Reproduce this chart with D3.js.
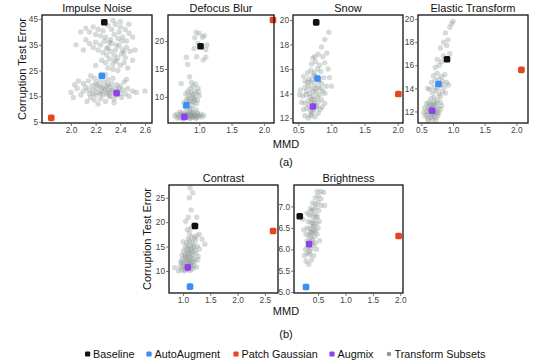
<!DOCTYPE html>
<html><head><meta charset="utf-8">
<script src="https://cdn.jsdelivr.net/npm/d3@7"></script>
<style>
body{margin:0;background:#fff;}
svg{display:block;font-family:"Liberation Sans",Arial,Helvetica,sans-serif;}
</style></head>
<body><svg id="c" width="551" height="360"></svg>
<script>
// ---------- DATA ----------
const panelTitles = ["Impulse Noise","Defocus Blur","Snow","Elastic Transform","Contrast","Brightness"];
const seriesNames = ["Baseline","AutoAugment","Patch Gaussian","Augmix","Transform Subsets"];
const seriesColors = ["#111111","#3a8ef6","#e4471f","#9140ef","#8c9997"];
// highlighted points per panel: [MMD, error] in order Baseline, AutoAugment, Patch Gaussian, Augmix
const baselinePts = [[2.27,43.8],[1.02,19.1],[0.77,19.8],[0.905,16.52],[1.22,19.2],[0.165,6.77]];
const autoAugPts  = [[2.25,23.0],[0.80,8.5],[0.79,15.23],[0.77,14.38],[1.13,6.8],[0.28,5.12]];
const patchGPts   = [[1.84,6.6],[2.14,23.8],[2.01,13.96],[2.08,15.6],[2.65,18.2],[1.97,6.31]];
const augmixPts   = [[2.37,16.2],[0.77,6.4],[0.72,12.95],[0.67,12.06],[1.09,10.75],[0.335,6.12]];
// axis tick labels per panel
const xTicks = [[2.0,2.2,2.4,2.6],[1.0,1.5,2.0],[0.5,1.0,1.5,2.0],[0.5,1.0,1.5,2.0],[1.0,1.5,2.0,2.5],[0.5,1.0,1.5,2.0]];
const yTicks = [[5,15,25,35,45],[10,15,20],[12,14,16,18,20],[12,14,16,18,20],[10,15,20,25],[5.0,5.5,6.0,6.5,7.0]];
const xDomains = [[1.765,2.657],[0.516,2.156],[0.42,2.08],[0.447,2.184],[0.745,2.74],[0.06,2.05]];
const yDomains = [[4.6,46.6],[5.3,24.7],[11.6,20.4],[11.0,20.35],[5.5,27.6],[4.98,7.5]];
// transform-subset clouds
const impulseSubsets = [[2.08,40],[2.12,41.5],[2.15,40],[2.18,42],[2.2,39],[2.22,41],[2.26,40.5],[2.3,42.5],[2.33,41],[2.36,43],[2.4,42],[2.44,41],[2.47,39.5],[2.28,38],[2.32,37],[2.35,39],[2.38,37.5],[2.42,38],[2.45,36.5],[2.5,38],[2.2,36],[2.24,35],[2.27,36.5],[2.3,34],[2.33,35.5],[2.36,33],[2.39,34.5],[2.42,33],[2.45,34],[2.48,32.5],[2.22,33],[2.26,32],[2.29,31],[2.32,32.5],[2.35,31],[2.38,30],[2.41,31.5],[2.44,30],[2.18,34],[2.15,35.5],[2.04,35],[2.1,33],[2.25,29],[2.28,28],[2.31,29.5],[2.34,27.5],[2.37,28.5],[2.4,27],[2.43,28],[2.46,26],[2.3,26],[2.34,25.5],[2.5,29],[2.38,25],[2.2,27],[2.52,33],[2.34,44.5],[2.4,44],[2.47,43],[2.12,37],[2.31,36],[2.37,35],[2.41,36.5],[2.29,33.5],[2.35,29],[2.39,40],[2.43,32],[2.24,38.5],
[2.0,16.5],[2.05,18],[2.03,19.5],[2.08,15.5],[2.1,17],[2.1,20],[2.12,18.5],[2.14,21],[2.15,16],[2.16,14.5],[2.17,19],[2.18,17.5],[2.19,22],[2.2,15.5],[2.2,20],[2.21,18],[2.22,16.5],[2.23,21],[2.24,14],[2.24,19],[2.25,17],[2.26,15.5],[2.27,20.5],[2.28,18],[2.28,13],[2.29,16],[2.3,19.5],[2.3,21.5],[2.31,17],[2.32,15],[2.32,18.5],[2.33,20],[2.34,16.5],[2.35,14],[2.36,18],[2.37,19.5],[2.37,15.5],[2.38,17],[2.4,16],[2.4,19],[2.41,14.5],[2.42,17.5],[2.43,20.5],[2.44,16],[2.46,18],[2.47,15],[2.5,17],[2.53,16.5],[2.6,17],[2.02,14.5],[2.13,13],[2.06,21],[2.26,22.5],[2.34,22],[2.19,13.5],[2.45,21.5],[2.16,23],[2.35,12.5],[2.22,12],[2.28,23.5],[2.25,18.5],[2.27,17.5],[2.3,16.5],[2.33,17.5],[2.21,19.5],[2.24,16],[2.36,16.5],[2.29,19],[2.18,16],[2.31,15],[2.39,18],[2.14,17.5]];
const defocusSubsets = [[0.62,6.6],[0.65,6.9],[0.68,6.4],[0.7,6.8],[0.72,6.2],[0.73,7.1],[0.75,6.5],[0.77,6.9],[0.78,6.3],[0.8,6.7],[0.82,7.0],[0.83,6.4],[0.85,6.8],[0.87,6.2],[0.88,6.6],[0.9,7.0],[0.92,6.5],[0.94,6.8],[0.96,6.3],[0.98,6.7],[1.0,6.5],[1.02,6.9],[1.04,6.4],[0.7,7.3],[0.8,7.4],[0.9,7.3],[0.75,6.0],[0.85,6.1],[0.95,6.1],[0.66,6.2],[0.79,6.55],[0.89,6.45],[0.83,6.75],[0.93,6.65],[0.74,6.7],[0.86,7.2],[0.97,7.1],[1.07,6.7],[0.81,6.35],[0.87,6.9],[0.91,6.35],
[0.78,8.2],[0.82,8.8],[0.85,8.0],[0.88,9.2],[0.9,8.5],[0.92,9.8],[0.8,9.5],[0.84,10.2],[0.87,10.8],[0.9,10.0],[0.93,11.0],[0.95,10.5],[0.97,9.4],[0.99,10.9],[0.86,11.5],[0.9,11.9],[0.94,12.3],[0.82,11.0],[0.79,10.5],[0.76,9.0],[0.98,11.6],[1.0,10.2],[0.88,12.6],[0.72,12.4],[0.96,8.8],[0.83,9.7],[0.91,9.1],[0.87,7.8],[0.95,7.7],[0.89,10.4],[0.93,9.5],[0.85,9.3],
[0.85,13.6],[0.82,15.8],[0.8,17.1],[0.96,17.2],[1.06,16.6],[1.1,17.1],[0.92,18.7],[1.1,18.5],[1.12,19.3],[0.93,20.6],[0.95,21.6],[1.0,21.4],[1.05,20.7],[0.98,19.6],[1.08,21.0]];
const snowSubsets = [[0.6,12.2],[0.65,12.0],[0.7,12.3],[0.75,12.1],[0.8,12.4],[0.58,12.7],[0.63,12.8],[0.68,12.6],[0.73,12.7],[0.78,12.9],[0.83,12.7],[0.55,13.3],[0.6,13.2],[0.65,13.4],[0.7,13.3],[0.75,13.5],[0.8,13.3],[0.85,13.5],[0.9,13.2],[0.57,13.8],[0.62,13.9],[0.67,14.0],[0.72,13.8],[0.77,14.1],[0.82,13.9],[0.87,14.2],[0.53,14.3],[0.6,14.5],[0.65,14.6],[0.7,14.4],[0.75,14.7],[0.8,14.5],[0.85,14.8],[0.92,14.6],[0.6,15.0],[0.66,15.2],[0.71,15.1],[0.76,15.4],[0.81,15.0],[0.88,15.3],[0.97,15.3],[0.64,15.7],[0.69,15.9],[0.74,15.7],[0.79,16.0],[0.84,15.8],[0.7,16.4],[0.76,16.6],[0.82,16.3],[0.9,16.5],[0.95,16.0],[0.75,17.0],[0.8,17.2],[0.87,17.0],[0.93,17.3],[0.85,17.8],[0.9,18.4],[0.96,19.0],[0.72,16.9],[0.68,12.2],[0.62,14.2],[0.74,13.2],[0.79,13.7],[0.84,14.4],[0.69,14.9],[0.73,15.5],[0.78,15.2],[0.66,13.0],[0.71,12.5],[0.86,12.9],[1.0,14.6],[0.52,13.9],[0.58,15.4],[0.9,14.0],[0.68,13.7],[0.73,14.2],[0.77,13.0],[0.64,14.9],[0.71,13.5],[0.76,14.4]];
const elasticSubsets = [[0.56,11.6],[0.6,11.4],[0.64,11.5],[0.68,11.3],[0.72,11.5],[0.76,11.6],[0.58,12.0],[0.62,11.9],[0.66,11.8],[0.7,11.9],[0.74,12.0],[0.78,11.9],[0.55,12.3],[0.6,12.4],[0.64,12.2],[0.68,12.3],[0.72,12.5],[0.76,12.3],[0.8,12.2],[0.58,12.7],[0.62,12.8],[0.66,12.6],[0.7,12.8],[0.74,12.7],[0.8,12.8],[0.59,11.7],[0.65,12.05],[0.71,12.15],[0.67,11.55],[0.63,12.55],[0.75,11.85],[0.69,12.6],[0.61,11.2],[0.73,11.25],[0.54,11.9],[0.82,12.5],[0.62,12.15],[0.69,11.75],[0.66,12.35],
[0.65,13.1],[0.7,13.2],[0.75,13.0],[0.8,13.3],[0.68,13.6],[0.73,13.8],[0.78,13.5],[0.83,13.7],[0.63,13.9],[0.7,14.1],[0.76,14.0],[0.81,14.3],[0.86,14.1],[0.66,14.5],[0.72,14.7],[0.78,14.8],[0.84,14.6],[0.9,14.5],[0.69,15.1],[0.75,15.3],[0.82,15.0],[0.87,15.2],[0.6,14.0],[0.93,14.3],[0.88,13.6],
[0.72,15.8],[0.78,16.0],[0.75,16.5],[0.85,16.8],[0.95,17.0],[0.8,17.5],[0.9,17.7],[0.85,18.0],[0.92,18.2],[0.88,18.8],[0.95,19.3],[0.98,19.6],[1.0,19.8],[0.82,16.3]];
const contrastSubsets = [[0.98,10.2],[1.03,10.0],[1.08,10.3],[1.13,10.1],[1.18,10.4],[0.95,10.8],[1.0,11.0],[1.05,10.7],[1.1,11.2],[1.15,10.9],[1.2,11.1],[1.25,10.8],[0.97,11.6],[1.02,11.8],[1.07,11.5],[1.12,11.9],[1.17,11.7],[1.22,12.0],[1.0,12.4],[1.05,12.6],[1.1,12.3],[1.15,12.7],[1.2,12.5],[1.27,12.3],[0.98,13.2],[1.03,13.4],[1.08,13.1],[1.13,13.5],[1.18,13.3],[1.24,13.6],[1.01,14.1],[1.06,14.3],[1.11,14.0],[1.16,14.4],[1.22,14.2],[1.3,14.5],[1.04,15.0],[1.09,15.2],[1.14,14.9],[1.19,15.3],[1.26,15.1],[1.07,15.8],[1.12,16.1],[1.17,15.9],[1.23,16.3],[1.1,16.7],[1.16,17.0],[1.21,16.8],[1.3,17.5],[1.4,15.5],[1.35,16.5],[0.85,10.7],[0.92,10.0],[1.12,17.8],[1.08,18.5],[1.15,18.8],[1.2,19.5],[1.05,20.2],[1.1,21.0],[1.15,22.5],[1.12,25.0],[1.18,26.0],[1.13,27.0],[1.25,21.0],[1.02,11.3],[1.07,12.1],[1.12,12.8],[1.17,13.9],[1.09,13.7],[1.14,11.4],[1.04,10.4],[0.96,12.0],[1.28,13.0],[1.2,14.8],[1.25,17.2],[1.0,16.0],[1.05,13.0],[1.1,14.6],[1.15,12.0]];
const brightnessSubsets = [[0.28,5.72],[0.33,5.65],[0.38,5.75],[0.25,5.85],[0.3,5.9],[0.35,5.88],[0.42,5.85],[0.27,6.0],[0.32,6.05],[0.37,6.0],[0.42,6.08],[0.47,6.0],[0.3,6.2],[0.35,6.18],[0.4,6.22],[0.45,6.15],[0.28,6.35],[0.33,6.32],[0.38,6.38],[0.43,6.3],[0.48,6.35],[0.3,6.5],[0.35,6.48],[0.4,6.52],[0.45,6.45],[0.5,6.5],[0.32,6.65],[0.37,6.62],[0.42,6.68],[0.47,6.6],[0.52,6.65],[0.34,6.8],[0.39,6.78],[0.44,6.82],[0.49,6.76],[0.36,6.95],[0.41,6.92],[0.46,6.97],[0.51,6.9],[0.4,7.08],[0.45,7.05],[0.5,7.1],[0.55,7.02],[0.45,7.2],[0.5,7.25],[0.55,7.18],[0.48,7.35],[0.55,7.35],[0.6,7.33],[0.62,7.02],[0.24,6.45],[0.22,6.7],[0.3,6.85],[0.53,6.2],[0.36,6.4],[0.41,6.6],[0.44,6.4],[0.39,6.15],[0.34,5.95],[0.46,6.75],[0.38,6.9],[0.43,6.55],[0.37,6.28],[0.4,6.42]];
const subsetClouds = [impulseSubsets,defocusSubsets,snowSubsets,elasticSubsets,contrastSubsets,brightnessSubsets];

// ---------- LAYOUT ----------
const frames = [
  {x:42,y:15,w:110,h:108},{x:168,y:15,w:106,h:108},{x:293,y:15,w:110,h:108},{x:418,y:15,w:110,h:108},
  {x:169,y:185,w:109,h:108},{x:294,y:185,w:109,h:108}
];
const svg = d3.select("#c");
const tickCol = "#444";

frames.forEach((f,i)=>{
  const x = d3.scaleLinear().domain(xDomains[i]).range([f.x, f.x+f.w]);
  const y = d3.scaleLinear().domain(yDomains[i]).range([f.y+f.h, f.y]);
  const g = svg.append("g");
  // subsets
  g.append("g").selectAll("circle").data(subsetClouds[i]).join("circle")
    .attr("cx",d=>x(d[0])).attr("cy",d=>y(d[1])).attr("r",2.7)
    .attr("fill",seriesColors[4]).attr("fill-opacity",0.36);
  // highlighted
  const hl = [baselinePts[i],autoAugPts[i],patchGPts[i],augmixPts[i]];
  g.append("g").selectAll("rect").data(hl).join("rect")
    .attr("x",d=>x(d[0])-3.3).attr("y",d=>y(d[1])-3.3).attr("width",6.6).attr("height",6.6)
    .attr("rx",1.6).attr("fill",(d,k)=>seriesColors[k]);
  // frame
  g.append("rect").attr("x",f.x).attr("y",f.y).attr("width",f.w).attr("height",f.h)
    .attr("fill","none").attr("stroke","#111").attr("stroke-width",1.3);
  // axes
  const fmtY = (i===5)? d3.format(".1f") : d3.format("d");
  const ax = g.append("g").attr("transform",`translate(${f.x-0.6},0)`)
    .call(d3.axisLeft(y).tickValues(yTicks[i]).tickSize(2.2).tickPadding(1.2).tickFormat(fmtY));
  const bx = g.append("g").attr("transform",`translate(0,${f.y+f.h+0.6})`)
    .call(d3.axisBottom(x).tickValues(xTicks[i]).tickSize(2.2).tickPadding(1.5).tickFormat(d3.format(".1f")));
  [ax,bx].forEach(a=>{
    a.select(".domain").remove();
    a.selectAll(".tick line").attr("stroke",tickCol).attr("stroke-width",0.8);
    a.selectAll(".tick text").attr("fill",tickCol).style("font-size","8.3px")
      .style("font-family","'Liberation Sans',Arial,sans-serif");
  });
  // title
  svg.append("text").attr("x",f.x+f.w/2).attr("y",f.y-3.5).attr("text-anchor","middle")
    .style("font-size","11px").attr("fill","#111").text(panelTitles[i]);
});

// axis titles
function yTitle(cx,cy){
  svg.append("text").attr("transform",`translate(${cx},${cy}) rotate(-90)`)
    .attr("text-anchor","middle").attr("dominant-baseline","central")
    .style("font-size","11px").attr("fill","#111").text("Corruption Test Error");
}
yTitle(22,69); yTitle(147,239);
function label(x,y,t){
  svg.append("text").attr("x",x).attr("y",y).attr("text-anchor","middle")
    .style("font-size","11px").attr("fill","#111").text(t);
}
label(286,148,"MMD"); label(286,166,"(a)");
label(286,315,"MMD"); label(286,338,"(b)");

// legend
const legX = [87.6,149,236,332,389];
const lg = svg.append("g");
seriesNames.forEach((n,k)=>{
  if(k<4){
    lg.append("rect").attr("x",legX[k]-2.6).attr("y",354-2.6).attr("width",5.2).attr("height",5.2)
      .attr("rx",1.2).attr("fill",seriesColors[k]);
  } else {
    lg.append("circle").attr("cx",legX[k]).attr("cy",354).attr("r",2.3).attr("fill",seriesColors[k]);
  }
  lg.append("text").attr("x",legX[k]+5.5).attr("y",358).style("font-size","10.8px")
    .attr("fill","#111").text(n);
});
</script></body></html>
